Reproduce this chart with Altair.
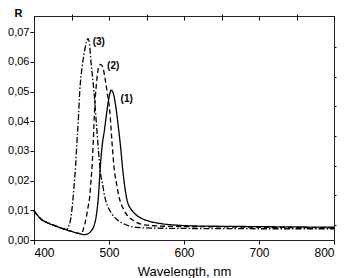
import altair as alt
import pandas as pd

# Curve (1) - solid
wl1 = [400, 405, 410, 420, 430, 440, 450, 460, 467, 472, 476, 480, 483, 486, 488.5, 491, 494, 497, 500, 503,
       506, 509, 513, 516, 518, 521, 524, 529, 534, 544, 554, 570, 590, 620, 660, 700, 750, 800]
r1 = [0.0098, 0.0082, 0.0069, 0.0056, 0.0046, 0.0037, 0.0029, 0.0022, 0.0018, 0.0021, 0.0030, 0.0048, 0.0081,
      0.0150, 0.0250, 0.0320, 0.0372, 0.0430, 0.0480, 0.0505, 0.0492, 0.0450, 0.0370, 0.0300, 0.0245, 0.0180,
      0.0135, 0.0105, 0.0090, 0.0072, 0.0063, 0.0055, 0.0050, 0.0047, 0.0046, 0.0045, 0.0044, 0.0043]

# Curve (2) - dashed
wl2 = [400, 405, 410, 420, 430, 440, 450, 460, 463, 465, 467, 470, 472, 474, 476, 477.5, 479, 481, 483, 486,
       489, 492, 495, 498, 501, 504, 506.5, 510, 514, 519, 525, 533, 543, 560, 580, 620, 700, 800]
r2 = [0.0098, 0.0082, 0.0069, 0.0056, 0.0046, 0.0037, 0.0029, 0.0022, 0.0021, 0.0030, 0.0047, 0.0080, 0.0110,
      0.0139, 0.0200, 0.0250, 0.0330, 0.0450, 0.0520, 0.0580, 0.0592, 0.0580, 0.0540, 0.0490, 0.0436, 0.0330,
      0.0250, 0.0190, 0.0139, 0.0105, 0.0081, 0.0065, 0.0053, 0.0048, 0.0046, 0.0045, 0.0043, 0.0041]

# Curve (3) - dash-dot
wl3 = [400, 405, 410, 420, 430, 440, 444, 446, 448, 450, 452, 454, 455.5, 457, 459, 461, 464, 467, 470, 472,
       474, 476, 478, 480, 483, 486, 489, 491, 494, 498, 504, 510, 518, 527, 540, 560, 600, 700, 800]
r3 = [0.0098, 0.0082, 0.0069, 0.0056, 0.0046, 0.0037, 0.0035, 0.0045, 0.0059, 0.0090, 0.0139, 0.0200, 0.0250,
      0.0320, 0.0400, 0.0500, 0.0580, 0.0630, 0.0668, 0.0679, 0.0660, 0.0600, 0.0550, 0.0500, 0.0400, 0.0300,
      0.0220, 0.0194, 0.0150, 0.0115, 0.0088, 0.0070, 0.0057, 0.0047, 0.0042, 0.0040, 0.0039, 0.0038, 0.0038]

label_text = ["(1)", "(2)", "(3)"]
label_wl = [523.6, 505.6, 486.4]
label_r = [0.0475, 0.0587, 0.0668]

x_major = [400, 500, 600, 700, 800]
x_minor = [450, 550, 650, 750]
x_top = [400, 450, 500, 550, 600, 650, 700, 750, 800]
y_major = [0.0, 0.01, 0.02, 0.03, 0.04, 0.05, 0.06, 0.07]
y_minor = [0.005, 0.015, 0.025, 0.035, 0.045, 0.055, 0.065]

rows = []
for name, ws, rs in (("1", wl1, r1), ("2", wl2, r2), ("3", wl3, r3)):
    for w, r in zip(ws, rs):
        rows.append({"wl": w, "r": r, "curve": name})
df = pd.DataFrame(rows)
lab = pd.DataFrame({"wl": label_wl, "r": label_r, "t": label_text})

FONT = "Liberation Sans"
xs = alt.Scale(domain=[400, 800], nice=False, zero=False)
ys = alt.Scale(domain=[0, 0.0755], nice=False, zero=False)
yfmt = "replace(format(datum.value, '.2f'), '.', ',')"

dash = alt.StrokeDash("curve:N", scale=alt.Scale(domain=["1", "2", "3"],
                                                 range=[[1, 0], [5, 3], [6, 2, 1.5, 2]]), legend=None)

main = alt.Chart(df).mark_line(color="black", strokeWidth=1.3, interpolate="monotone").encode(
    x=alt.X("wl:Q", scale=xs, axis=alt.Axis(values=x_major, tickSize=4, labelPadding=3, labelFontSize=12,
                                           labelFont=FONT, labelColor="black", tickColor="black", domain=False,
                                           grid=False, title="Wavelength, nm", titleFont=FONT, titleFontSize=13,
                                           titleFontWeight="normal", titleColor="black", titleY=31,
                                           titleBaseline="middle")),
    y=alt.Y("r:Q", scale=ys, axis=alt.Axis(values=y_major, tickSize=4, labelPadding=1, labelFontSize=11,
                                          labelFont=FONT, labelColor="black", tickColor="black", domain=False,
                                          grid=False, labelExpr=yfmt, title="R", titleFont=FONT,
                                          titleFontSize=11, titleFontWeight="bold", titleColor="black",
                                          titleAngle=0, titleX=-16, titleY=-3, titleAlign="center",
                                          titleBaseline="middle")),
    strokeDash=dash,
    detail="curve:N",
)

minor = alt.Chart(df).mark_line(opacity=0).encode(
    x=alt.X("wl:Q", scale=xs, axis=alt.Axis(values=x_minor, tickSize=2, labels=False, domain=False, grid=False,
                                           tickColor="black", title=None)),
    y=alt.Y("r:Q", scale=ys, axis=alt.Axis(values=y_minor, tickSize=2, labels=False, domain=False, grid=False,
                                          tickColor="black", title=None)),
    detail="curve:N",
)

top = alt.Chart(df).mark_line(opacity=0).encode(
    x=alt.X("wl:Q", scale=xs, axis=alt.Axis(orient="top", values=x_top, tickSize=4, offset=-4, labels=False,
                                           domain=False, grid=False, tickColor="black", title=None)),
    y=alt.Y("r:Q", scale=ys, axis=None),
    detail="curve:N",
)

texts = alt.Chart(lab).mark_text(font=FONT, fontSize=10, fontWeight="bold", color="black").encode(
    x=alt.X("wl:Q", scale=xs, axis=None),
    y=alt.Y("r:Q", scale=ys, axis=None),
    text="t:N",
)

chart = alt.layer(main, minor, top, texts).resolve_axis(x="independent", y="independent").properties(
    width=300, height=224,
    autosize=alt.AutoSizeParams(type="none"),
    padding={"left": 26, "top": 8, "right": 12, "bottom": 38},
).configure_view(stroke="#222", strokeWidth=1)

chart.save("out.html", embed_options={"renderer": "svg", "actions": False})
